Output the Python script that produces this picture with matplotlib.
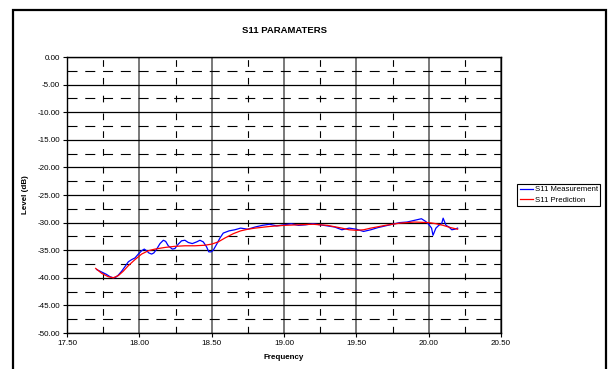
import numpy as np
import matplotlib.pyplot as plt
from matplotlib.patches import Rectangle
from matplotlib.ticker import MultipleLocator, FormatStrFormatter

plt.rcParams['font.family'] = ['Liberation Sans', 'DejaVu Sans']

# S11 measured response (GHz, dB)
meas_freq = [17.705, 17.735, 17.751, 17.774, 17.797, 17.82, 17.837, 17.855, 17.878, 17.90,
             17.924, 17.947, 17.97, 17.993, 18.016, 18.034, 18.05, 18.066, 18.085, 18.10,
             18.12, 18.143, 18.166, 18.182, 18.20, 18.228, 18.246, 18.269, 18.292, 18.315,
             18.338, 18.366, 18.396, 18.419, 18.442, 18.465, 18.48, 18.495, 18.511, 18.535,
             18.557, 18.58, 18.62, 18.66, 18.70, 18.75, 18.80, 18.85, 18.90, 18.95,
             19.00, 19.05, 19.10, 19.15, 19.20, 19.25, 19.30, 19.35, 19.40, 19.45,
             19.50, 19.55, 19.60, 19.65, 19.70, 19.75, 19.80, 19.85, 19.90, 19.95,
             19.98, 20.00, 20.02, 20.03, 20.05, 20.07, 20.09, 20.10, 20.12, 20.14,
             20.16, 20.18, 20.20]
meas_db = [-38.5, -38.9, -39.1, -39.4, -39.8, -40.0, -39.9, -39.5, -38.8, -38.0,
           -37.1, -36.7, -36.4, -35.7, -35.1, -34.8, -35.1, -35.5, -35.7, -35.5,
           -34.8, -33.8, -33.2, -33.4, -34.2, -34.8, -34.7, -33.9, -33.3, -33.2,
           -33.6, -33.8, -33.5, -33.2, -33.5, -34.4, -35.3, -35.3, -35.0, -33.9,
           -32.8, -31.9, -31.5, -31.3, -31.0, -31.2, -30.8, -30.5, -30.3, -30.6,
           -30.4, -30.2, -30.5, -30.4, -30.2, -30.4, -30.6, -30.8, -31.3, -31.0,
           -31.2, -31.6, -31.3, -30.9, -30.6, -30.3, -30.0, -29.9, -29.6, -29.3,
           -29.8, -30.3, -31.0, -32.3, -31.0, -30.5, -30.2, -29.2, -30.5, -30.8,
           -31.3, -31.2, -31.0]

# S11 predicted response (GHz, dB)
pred_freq = [17.698, 17.74, 17.785, 17.82, 17.855, 17.889, 17.924, 17.97, 18.016, 18.062,
             18.108, 18.177, 18.246, 18.315, 18.384, 18.453, 18.50, 18.545, 18.591, 18.65,
             18.70, 18.75, 18.80, 18.90, 19.00, 19.10, 19.20, 19.30, 19.40, 19.45,
             19.50, 19.55, 19.60, 19.70, 19.80, 19.90, 20.00, 20.05, 20.10, 20.15,
             20.20]
pred_db = [-38.3, -39.2, -39.8, -40.0, -39.6, -38.8, -37.8, -36.7, -35.7, -35.1,
           -34.8, -34.5, -34.3, -34.2, -34.2, -34.1, -33.9, -33.5, -32.8, -32.0,
           -31.5, -31.2, -31.0, -30.7, -30.5, -30.4, -30.3, -30.5, -31.0, -31.3,
           -31.4, -31.3, -31.0, -30.5, -30.1, -29.9, -30.0, -30.2, -30.5, -30.9,
           -31.2]

fig = plt.figure(figsize=(6.12, 3.69), dpi=100)
fig.patches.append(Rectangle((13 / 612, -0.05), 593 / 612, 1.05 - 10 / 369,
                             transform=fig.transFigure, fill=False,
                             edgecolor='black', linewidth=1.6))

ax = fig.add_axes([67 / 612, 1 - 333 / 369, 434 / 612, 276 / 369])
ax.set_xlim(17.5, 20.5)
ax.set_ylim(-50, 0)

ax.xaxis.set_major_locator(MultipleLocator(0.5))
ax.xaxis.set_minor_locator(MultipleLocator(0.25))
ax.yaxis.set_major_locator(MultipleLocator(5))
ax.yaxis.set_minor_locator(MultipleLocator(2.5))
ax.xaxis.set_major_formatter(FormatStrFormatter('%.2f'))
ax.yaxis.set_major_formatter(FormatStrFormatter('%.2f'))

ax.grid(True, which='major', axis='y', color='black', linewidth=0.9)
ax.grid(True, which='major', axis='x', color='#555555', linewidth=1.1)
ax.grid(True, which='minor', axis='y', color='black', linewidth=0.8,
        linestyle=(0, (9, 7)))
ax.grid(True, which='minor', axis='x', color='black', linewidth=0.8,
        linestyle=(0, (6, 10)))
ax.set_axisbelow(True)

ax.tick_params(which='major', direction='out', length=3, width=0.8,
               labelsize=5.8, pad=2)
ax.tick_params(which='minor', length=0)
for side in ['left', 'bottom', 'right', 'top']:
    ax.spines[side].set_linewidth(1.0)

ax.plot(meas_freq, meas_db, color='#0000FF', linewidth=0.9, label='S11 Measurement')
ax.plot(pred_freq, pred_db, color='#FF0000', linewidth=0.9, label='S11 Prediction')

ax.set_title('S11 PARAMATERS', fontsize=6.8, fontweight='bold', pad=17)
ax.set_xlabel('Frequency', fontsize=5.8, fontweight='bold', labelpad=5)
ax.set_ylabel('Level (dB)', fontsize=5.8, fontweight='bold', labelpad=6)

leg = ax.legend(loc='center left', bbox_to_anchor=(1.038, 0.5), fontsize=5.6,
                frameon=True, fancybox=False, edgecolor='black', framealpha=1,
                handlelength=1.7, handletextpad=0.25, borderpad=0.3,
                borderaxespad=0, labelspacing=0.4)
leg.get_frame().set_linewidth(0.8)

fig.savefig('out.png', dpi=100)
plt.close(fig)
